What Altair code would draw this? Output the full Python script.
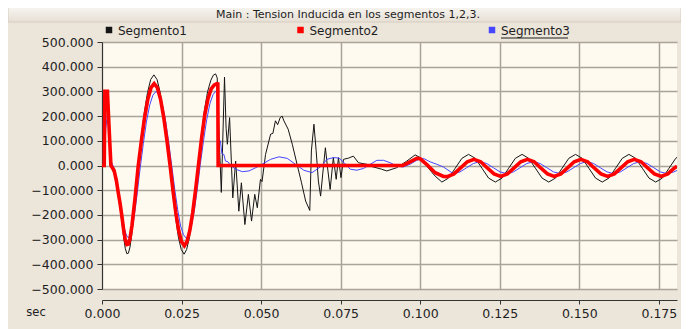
import altair as alt
import pandas as pd

# ---------------- data ----------------
names = ["Segmento1", "Segmento2", "Segmento3"]
colors = ["#151515", "#ff0000", "#4646ff"]
x_ticks = [0.0, 0.025, 0.05, 0.075, 0.1, 0.125, 0.15, 0.175]
y_ticks = [-500, -400, -300, -200, -100, 0, 100, 200, 300, 400, 500]

# Segmento1 (black)
t_seg1 = [0, 0.0007, 0.0009, 0.0017, 0.0022, 0.0029, 0.0035, 0.0040, 0.0045, 0.0051,
          0.0057, 0.0062, 0.0068, 0.0073, 0.0078, 0.0083, 0.0088, 0.0094, 0.0104, 0.0113,
          0.0123, 0.0133, 0.0143, 0.0153, 0.0163, 0.0173, 0.0183, 0.0193, 0.0203, 0.0213,
          0.0222, 0.0231, 0.0240, 0.0249, 0.0258, 0.0266, 0.0275, 0.0284, 0.0293, 0.0302,
          0.0312, 0.0322, 0.0332, 0.0342, 0.0350, 0.0357, 0.0362,
          0.0367, 0.0375, 0.0385, 0.0390, 0.0394, 0.0401, 0.0411, 0.0420, 0.0430, 0.0438,
          0.0449, 0.0460, 0.0470, 0.0480, 0.0488, 0.0498, 0.0503, 0.0514, 0.0530, 0.0537,
          0.0545, 0.0552, 0.0560, 0.0566, 0.0572, 0.0585, 0.0598, 0.0613, 0.0627, 0.0640,
          0.0653, 0.0658, 0.0666, 0.0673, 0.0680, 0.0687, 0.0694, 0.0702, 0.0709, 0.0717,
          0.0727, 0.0736, 0.0743, 0.0751, 0.0759, 0.0775, 0.0790, 0.0806, 0.0832, 0.0850,
          0.0879, 0.0895, 0.0926, 0.0958, 0.0984, 0.1000, 0.1020, 0.1047,
          0.1068, 0.1089, 0.1110, 0.1131, 0.1152, 0.1173, 0.1194, 0.1215, 0.1236, 0.1257,
          0.1278, 0.1299, 0.1320, 0.1341, 0.1362, 0.1383, 0.1404, 0.1425, 0.1446, 0.1467,
          0.1488, 0.1509, 0.1530, 0.1551, 0.1572, 0.1593, 0.1614, 0.1635, 0.1656, 0.1677,
          0.1698, 0.1719, 0.1740, 0.1761, 0.1782, 0.1803, 0.1807]
v_seg1 = [0, 0, 295, 295, 150, -5, -25, -40, -75, -125,
          -175, -225, -290, -335, -357, -355, -330, -275, -145, 0,
          113, 215, 295, 348, 367, 348, 295, 215, 113, 0,
          -110, -210, -290, -340, -359, -340, -290, -210, -110, 0,
          120, 225, 300, 345, 366, 371, 355,
          150, -109, 358, 150, 86, 194, -131, 18, -185, -70,
          -239, -117, -225, -117, -171, -56, -65, 45, 127, 130,
          181, 165, 194, 200, 180, 147, 86, 5, -70, -144,
          -182, 59, 167, 60, -63, -124, -30, 72, -10, -97,
          32, -56, 32, -49, 25, 30, 38, 11, 5, -5,
          -15, -22, -9, 18, 43, 32, -2, -43,
          -67, -51, -11, 29, 45, 29, -11, -51, -67, -51,
          -11, 29, 45, 29, -11, -51, -67, -51, -11, 29,
          45, 29, -11, -51, -67, -51, -11, 29, 45, 29,
          -11, -51, -67, -51, -11, 29, 33]

# Segmento2 (red)
t_seg2 = [0, 0.0007, 0.0009, 0.0017, 0.0022, 0.0028, 0.0033, 0.0038, 0.0045, 0.0051,
          0.0057, 0.0062, 0.0068, 0.0073, 0.0078, 0.0083, 0.0088, 0.0094, 0.0104, 0.0114,
          0.0124, 0.0134, 0.0144, 0.0154, 0.0164, 0.0174, 0.0184, 0.0194, 0.0204, 0.0214,
          0.0223, 0.0232, 0.0241, 0.0250, 0.0259, 0.0267, 0.0276, 0.0285, 0.0294, 0.0303,
          0.0313, 0.0323, 0.0333, 0.0343, 0.0353, 0.0361, 0.0364, 0.0365,
          0.0945, 0.0968, 0.0989, 0.1000, 0.1020, 0.1047, 0.1073, 0.1085,
          0.1106, 0.1127, 0.1148, 0.1169, 0.1190, 0.1211, 0.1232, 0.1253, 0.1274, 0.1295,
          0.1316, 0.1337, 0.1358, 0.1379, 0.1400, 0.1421, 0.1442, 0.1463, 0.1484, 0.1505,
          0.1526, 0.1547, 0.1568, 0.1589, 0.1610, 0.1631, 0.1652, 0.1673, 0.1694, 0.1715,
          0.1736, 0.1757, 0.1778, 0.1799, 0.1807]
v_seg2 = [0, 0, 300, 300, 160, 0, -10, -20, -60, -109,
          -155, -200, -260, -300, -320, -318, -295, -245, -130, 0,
          102, 195, 268, 315, 331, 315, 268, 195, 102, 0,
          -100, -191, -263, -309, -325, -309, -263, -191, -100, 0,
          110, 205, 270, 310, 326, 331, 330, 0,
          0, 15, 29, 27, 5, -29, -44, -45,
          -34, -10, 15, 25, 15, -10, -34, -44, -34, -10,
          15, 25, 15, -10, -34, -44, -34, -10, 15, 25,
          15, -10, -34, -44, -34, -10, 15, 25, 15, -10,
          -34, -44, -34, -10, -3]

# Segmento3 (blue)
t_seg3 = [0, 0.0007, 0.0012, 0.0018, 0.0024, 0.0030, 0.0039, 0.0046, 0.0052, 0.0058,
          0.0064, 0.0070, 0.0075, 0.0080, 0.0085, 0.0090, 0.0095, 0.0101, 0.0110, 0.0120,
          0.0130, 0.0140, 0.0150, 0.0160, 0.0170, 0.0180, 0.0190, 0.0200, 0.0210, 0.0220,
          0.0229, 0.0238, 0.0247, 0.0256, 0.0265, 0.0273, 0.0282, 0.0291, 0.0300, 0.0309,
          0.0319, 0.0329, 0.0339, 0.0349, 0.0357, 0.0363, 0.0366, 0.0372, 0.0377,
          0.0383, 0.0388, 0.0396, 0.0404, 0.0420, 0.0441, 0.0462, 0.0483, 0.0503, 0.0530,
          0.0556, 0.0582, 0.0608, 0.0634, 0.0660, 0.0687, 0.0707, 0.0727, 0.0745, 0.0762,
          0.0780, 0.0801, 0.0822, 0.0843, 0.0864, 0.0885, 0.0906, 0.0926, 0.0947, 0.0968,
          0.0989, 0.1010, 0.1031, 0.1052, 0.1073, 0.1104,
          0.1125, 0.1146, 0.1167, 0.1188, 0.1209, 0.1230, 0.1251, 0.1272, 0.1293, 0.1314,
          0.1335, 0.1356, 0.1377, 0.1398, 0.1419, 0.1440, 0.1461, 0.1482, 0.1503, 0.1524,
          0.1545, 0.1566, 0.1587, 0.1608, 0.1629, 0.1650, 0.1671, 0.1692, 0.1713, 0.1734,
          0.1755, 0.1776, 0.1797, 0.1807]
v_seg3 = [0, 0, 150, 222, 100, 13, -14, -50, -100, -150,
          -205, -250, -276, -290, -291, -280, -255, -210, -120, -10,
          90, 180, 245, 285, 300, 285, 245, 180, 90, -10,
          -100, -180, -245, -280, -295, -280, -240, -175, -90, 5,
          100, 185, 250, 287, 300, 300, 106, 100, 47,
          45, 18, 15, 0, -15, -25, -22, -9, 5, 25,
          35, 29, 5, -19, -29, -5, 25, 32, 30, 10,
          -15, -19, -12, 5, 21, 21, 11, -2, -6, 5,
          21, 29, 15, 5, -6, -33,
          -26, -9, 8, 16, 8, -9, -26, -33, -26, -9,
          8, 16, 8, -9, -26, -33, -26, -9, 8, 16,
          8, -9, -26, -33, -26, -9, 8, 16, 8, -9,
          -26, -33, -26, -20]

assert len(t_seg1) == len(v_seg1), (len(t_seg1), len(v_seg1))
assert len(t_seg2) == len(v_seg2), (len(t_seg2), len(v_seg2))
assert len(t_seg3) == len(v_seg3), (len(t_seg3), len(v_seg3))

rows = []
for name, ts, vs in zip(names, [t_seg1, t_seg2, t_seg3], [v_seg1, v_seg2, v_seg3]):
    for t, v in zip(ts, vs):
        rows.append({"series": name, "t": t, "v": v})
df = pd.DataFrame(rows)

# ---------------- chart ----------------
W, H = 575, 247
FONT = "DejaVu Sans"
TXT = "#1e1e1e"

x_enc = alt.X("t:Q",
              scale=alt.Scale(domain=[0, 0.1807], nice=False, zero=False),
              axis=alt.Axis(values=x_ticks, format=".3f", title=None, offset=11,
                            tickSize=4, tickColor="#333333", domainColor="#333333",
                            labelFont=FONT, labelFontSize=12.5, labelColor=TXT,
                            labelPadding=3, labelFlush=False, labelOverlap=False,
                            grid=True, gridColor="#a9a399", gridWidth=1.5))
y_enc = alt.Y("v:Q",
              scale=alt.Scale(domain=[-500, 500], nice=False, zero=False),
              axis=alt.Axis(values=y_ticks, format=".3f", title=None,
                            tickSize=5, tickColor="#333333", domainColor="#333333",
                            labelFont=FONT, labelFontSize=12.5, labelColor=TXT,
                            labelPadding=4, labelOverlap=False,
                            grid=True, gridColor="#a9a399", gridWidth=1.5))

widths = {"Segmento1": 1.0, "Segmento2": 3.6, "Segmento3": 1.0}
layers = []
for name in ["Segmento1", "Segmento3", "Segmento2"]:
    c = colors[names.index(name)]
    layers.append(
        alt.Chart(df).transform_filter(alt.datum.series == name)
        .mark_line(color=c, strokeWidth=widths[name], clip=True, interpolate="linear")
        .encode(x=x_enc, y=y_enc)
    )

one = pd.DataFrame({"k": [0]})

# title bar
bar = alt.Chart(one).mark_rect(
    fill=alt.LinearGradient(gradient="linear",
                            stops=[alt.GradientStop(color="#f8f6f2", offset=0),
                                   alt.GradientStop(color="#e6dfd4", offset=1)],
                            x1=0, x2=0, y1=0, y2=1),
    stroke="#d6cec2", strokeWidth=1
).encode(x=alt.value(-94), x2=alt.value(W + 4), y=alt.value(-36), y2=alt.value(-20))

title = alt.Chart(one).mark_text(
    text="Main : Tension Inducida en los segmentos 1,2,3.",
    font=FONT, fontSize=11, color=TXT, align="center", baseline="middle"
).encode(x=alt.value(246), y=alt.value(-27.5))

# legend
legend_layers = []
for i, name in enumerate(names):
    x0 = 7 + i * 191.5
    legend_layers.append(
        alt.Chart(one).mark_square(size=42, color=colors[i], opacity=1, filled=True)
        .encode(x=alt.value(x0), y=alt.value(-12))
    )
    legend_layers.append(
        alt.Chart(one).mark_text(text=name, font=FONT, fontSize=12, color=TXT,
                                 align="left", baseline="middle")
        .encode(x=alt.value(x0 + 9), y=alt.value(-11))
    )
underline = alt.Chart(one).mark_rule(color=TXT, strokeWidth=1).encode(
    x=alt.value(7 + 2 * 191.5 + 9), x2=alt.value(7 + 2 * 191.5 + 9 + 67),
    y=alt.value(-4))

sec = alt.Chart(one).mark_text(text="sec", font=FONT, fontSize=11.5, color=TXT,
                               align="center", baseline="middle"
                               ).encode(x=alt.value(-66), y=alt.value(271))

chart = alt.layer(*layers, bar, title, *legend_layers, underline, sec).properties(
    width=W, height=H,
    autosize=alt.AutoSizeParams(type="none"),
    padding={"left": 94, "top": 34, "right": 4, "bottom": 40},
    background="#ece5da",
).configure_view(fill="#fefaf0", stroke=None)

chart.save("out.html", embed_options={"renderer": "svg", "actions": False})
